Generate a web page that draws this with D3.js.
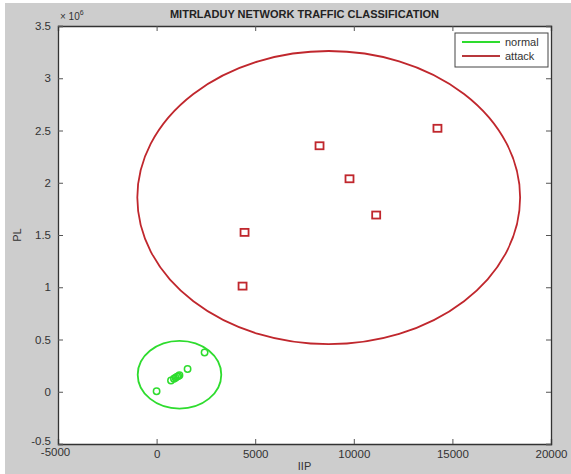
<!DOCTYPE html>
<html>
<head>
<meta charset="utf-8">
<script src="https://cdn.jsdelivr.net/npm/d3@7"></script>
<style>
  body { margin: 0; background: #fff; }
  text { font-family: "Liberation Sans", Arial, sans-serif; }
</style>
</head>
<body>
<div class="content"></div>
<script>
// data
var xTicks = [-5000, 0, 5000, 10000, 15000, 20000];
var yTicks = [-0.5, 0, 0.5, 1, 1.5, 2, 2.5, 3, 3.5];

var normalX = [0, 730, 880, 960, 1040, 1100, 1160, 1571, 2433];
var normalY = [0.005, 0.107, 0.125, 0.135, 0.145, 0.15, 0.158, 0.218, 0.375];

var attackX = [14242, 8262, 9782, 11135, 4460, 4359];
var attackY = [2.521, 2.354, 2.038, 1.691, 1.525, 1.011];

// cluster ellipses: cx, cy, rx, ry
var normalEllipse = [1161, 0.163, 2119, 0.324];
var attackEllipse = [8728, 1.858, 9706, 1.403];

var W = 571, H = 474;
var margin = {left: 58, top: 26, right: 20, bottom: 30};

var svg = d3.select('.content').append('svg')
  .attr('width', W)
  .attr('height', H);

// gray figure background
svg.append('rect')
  .attr('x', 5).attr('y', 3)
  .attr('width', W - 5).attr('height', H - 3)
  .style('fill', '#cdcdcd');

var x = d3.scaleLinear().domain([-5000, 20000]).range([margin.left, W - margin.right]);
var y = d3.scaleLinear().domain([-0.5, 3.5]).range([H - margin.bottom, margin.top]);

svg.append('rect')
  .attr('x', x(-5000)).attr('y', y(3.5))
  .attr('width', x(20000) - x(-5000))
  .attr('height', y(-0.5) - y(3.5))
  .style('fill', 'white');

var ax = svg.append('g').attr('class', 'axes');
var plain = function(d) { return String(d); };

// axes with inner ticks (matlab box)
ax.append('g')
  .attr('transform', 'translate(0,' + y(-0.5) + ')')
  .call(d3.axisBottom(x).tickValues(xTicks).tickSize(-5).tickPadding(6).tickFormat(plain));
ax.append('g')
  .attr('transform', 'translate(0,' + y(3.5) + ')')
  .call(d3.axisTop(x).tickValues(xTicks).tickSize(-5).tickFormat(''));
ax.append('g')
  .attr('transform', 'translate(' + x(-5000) + ',0)')
  .call(d3.axisLeft(y).tickValues(yTicks).tickSize(-5).tickPadding(7).tickFormat(plain));
ax.append('g')
  .attr('transform', 'translate(' + x(20000) + ',0)')
  .call(d3.axisRight(y).tickValues(yTicks).tickSize(-5).tickFormat(''));

ax.selectAll('.domain').style('stroke', '#333').style('stroke-width', 1.3);
ax.selectAll('.tick line').style('stroke', '#555');
ax.selectAll('.tick text').style('font-size', '11.5px').style('fill', '#333');

// first x / y labels offset like matlab
ax.selectAll('.tick text').filter(function(d) { return d === -5000; })
  .attr('dy', '0.55em').attr('dx', '-3');
ax.selectAll('.tick text').filter(function(d) { return d === -0.5; }).attr('dy', '0.05em');

svg.append('text')
  .attr('x', x(-5000) + 2).attr('y', y(3.5) - 6)
  .style('font-size', '10px').style('fill', '#333')
  .html('× 10<tspan dy="-5" font-size="7">6</tspan>');

// ellipses
var plot = svg.append('g');

plot.append('ellipse')
  .attr('cx', x(attackEllipse[0])).attr('cy', y(attackEllipse[1]))
  .attr('rx', x(attackEllipse[2]) - x(0)).attr('ry', y(0) - y(attackEllipse[3]))
  .style('fill', 'none').style('stroke', '#c0272d').style('stroke-width', 1.8);

plot.append('ellipse')
  .attr('cx', x(normalEllipse[0])).attr('cy', y(normalEllipse[1]))
  .attr('rx', x(normalEllipse[2]) - x(0)).attr('ry', y(0) - y(normalEllipse[3]))
  .style('fill', 'none').style('stroke', '#2edc2e').style('stroke-width', 1.8);

// points
plot.selectAll('.normal').data(normalX).enter().append('circle')
  .attr('class', 'normal')
  .attr('cx', function(d) { return x(d); })
  .attr('cy', function(d, i) { return y(normalY[i]); })
  .attr('r', 3.2)
  .style('fill', 'none').style('stroke', '#2edc2e').style('stroke-width', 1.5);

plot.selectAll('.attack').data(attackX).enter().append('rect')
  .attr('class', 'attack')
  .attr('x', function(d) { return x(d) - 4; })
  .attr('y', function(d, i) { return y(attackY[i]) - 3.5; })
  .attr('width', 8).attr('height', 7)
  .style('fill', 'white').style('stroke', '#c0272d').style('stroke-width', 1.8);

// title + labels
svg.append('text')
  .attr('x', (x(-5000) + x(20000)) / 2).attr('y', 18)
  .attr('text-anchor', 'middle')
  .style('font-size', '11px').style('font-weight', 'bold').style('fill', '#222')
  .text('MITRLADUY NETWORK TRAFFIC CLASSIFICATION');

svg.append('text')
  .attr('x', (x(-5000) + x(20000)) / 2).attr('y', 470)
  .attr('text-anchor', 'middle')
  .style('font-size', '11px').style('fill', '#333')
  .text('IIP');

svg.append('text')
  .attr('transform', 'translate(21,' + ((y(3.5) + y(-0.5)) / 2) + ') rotate(-90)')
  .attr('text-anchor', 'middle')
  .style('font-size', '11px').style('fill', '#333')
  .text('PL');

// legend
var legend = svg.append('g').attr('transform', 'translate(455,33)');
legend.append('rect')
  .attr('width', 93).attr('height', 34)
  .style('fill', 'white').style('stroke', '#444').style('stroke-width', 1);
var items = [['normal', '#2edc2e'], ['attack', '#b8383c']];
items.forEach(function(it, i) {
  legend.append('line')
    .attr('x1', 7).attr('x2', 45)
    .attr('y1', 9 + i * 14).attr('y2', 9 + i * 14)
    .style('stroke', it[1]).style('stroke-width', 2);
  legend.append('text')
    .attr('x', 50).attr('y', 13 + i * 14)
    .style('font-size', '11px').style('fill', '#333')
    .text(it[0]);
});
</script>
</body>
</html>
